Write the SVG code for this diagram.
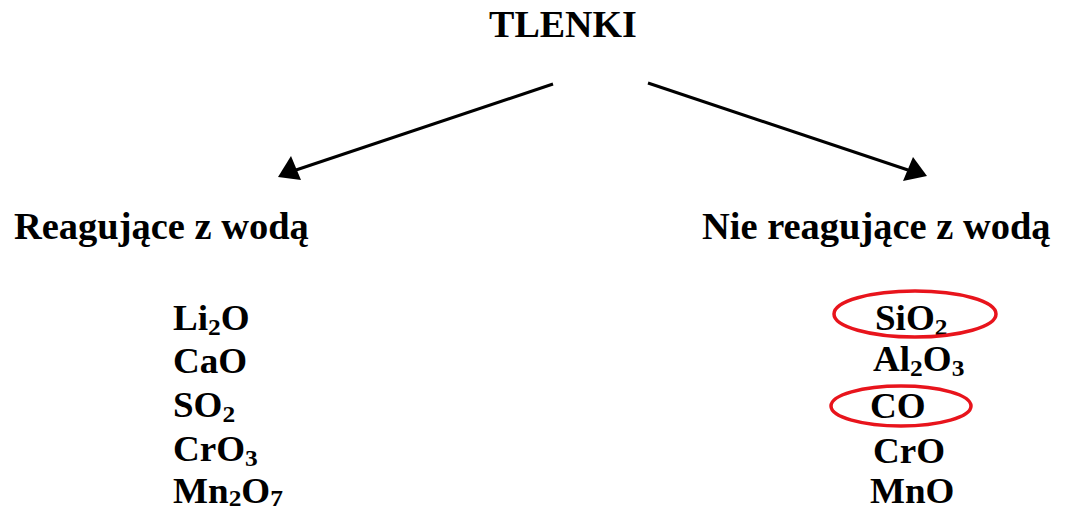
<svg xmlns="http://www.w3.org/2000/svg" width="1066" height="512" viewBox="0 0 1066 512">
<style>
text{font-family:"Liberation Serif","Times New Roman",serif;font-weight:bold;fill:#000}
.t{font-size:38px}
.h{font-size:37px}
.f{font-size:35px}
.s{font-size:24px}
.arr{stroke:#000;stroke-width:3;fill:none}
.ring{stroke:#e8141c;stroke-width:3.5;fill:none}
</style>
<rect width="1066" height="512" fill="#fff"/>
<g id="tlenki"><text class="t" x="563" y="37" text-anchor="middle">TLENKI</text></g>
<g id="connectors">
<path class="arr" d="M553,84 L296,170"/>
<path d="M278,177 L291,156 L301,180 z" fill="#000"/>
<path class="arr" d="M648,83 L908,170"/>
<path d="M927,176 L903,181 L913,157 z" fill="#000"/>
</g>
<g id="reagujace">
<text class="h" transform="translate(14,239) scale(1.04,1)">Reagujące z wodą</text>
<g transform="translate(173,330) scale(1.06,1)"><text class="f">Li<tspan class="s" dy="5">2</tspan><tspan dy="-5">O</tspan></text></g>
<g transform="translate(173,373) scale(1.06,1)"><text class="f">CaO</text></g>
<g transform="translate(173,417) scale(1.06,1)"><text class="f">SO<tspan class="s" dy="5">2</tspan></text></g>
<g transform="translate(173,461) scale(1.06,1)"><text class="f">CrO<tspan class="s" dy="5">3</tspan></text></g>
<g transform="translate(173,503) scale(1.06,1)"><text class="f">Mn<tspan class="s" dy="3">2</tspan><tspan dy="-3">O</tspan><tspan class="s" dy="3">7</tspan></text></g>
</g>
<g id="nie-reagujace">
<text class="h" transform="translate(702,239) scale(1.04,1)">Nie reagujące z wodą</text>
<g transform="translate(875,330) scale(1.06,1)"><text class="f">SiO<tspan class="s" dy="5">2</tspan></text></g>
<g transform="translate(873,371) scale(1.06,1)"><text class="f">Al<tspan class="s" dy="5">2</tspan><tspan dy="-5">O</tspan><tspan class="s" dy="5">3</tspan></text></g>
<g transform="translate(870,418) scale(1.06,1)"><text class="f">CO</text></g>
<g transform="translate(873,463) scale(1.06,1)"><text class="f">CrO</text></g>
<g transform="translate(870,503) scale(1.06,1)"><text class="f">MnO</text></g>
<ellipse class="ring" cx="915" cy="314" rx="81" ry="23"/>
<ellipse class="ring" cx="901" cy="406" rx="70" ry="20"/>
</g>
</svg>
